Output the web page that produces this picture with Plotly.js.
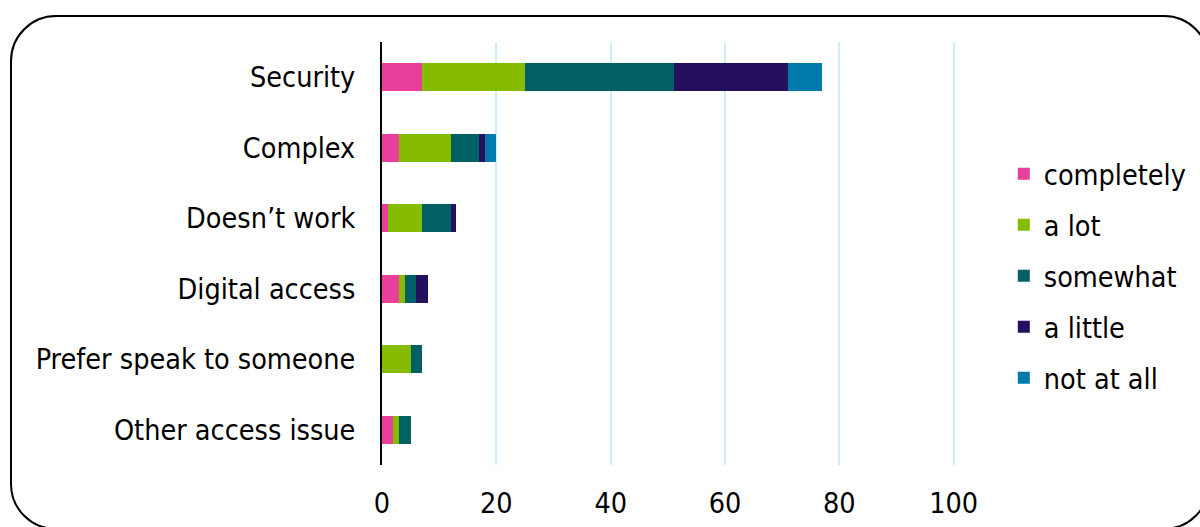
<!DOCTYPE html>
<html>
<head>
<meta charset="utf-8">
<script src="https://cdn.plot.ly/plotly-3.0.1.min.js"></script>
<style>
  html, body { margin: 0; padding: 0; background: #ffffff; overflow: hidden; }
  #frame {
    position: absolute; left: 10px; top: 15px; width: 1200px; height: 515px;
    border: 2.5px solid #000; border-radius: 46px; box-sizing: border-box;
  }
  #chart { position: absolute; left: 0; top: 0; width: 1200px; height: 527px; }
</style>
</head>
<body>
<div id="frame"></div>
<div id="chart"></div>
<script>
// Reasons for not using the service, split by how much each one applies
const categories = ['Security', 'Complex', 'Doesn\u2019t work', 'Digital access', 'Prefer speak to someone', 'Other access issue'];
const seriesNames = ['completely', 'a lot', 'somewhat', 'a little', 'not at all'];
const completely = [7, 3, 1, 3, 0, 2];
const aLot       = [18, 9, 6, 1, 5, 1];
const somewhat   = [26, 5, 5, 2, 2, 2];
const aLittle    = [20, 1, 1, 2, 0, 0];
const notAtAll   = [6, 2, 0, 0, 0, 0];
const xTicks = [0, 20, 40, 60, 80, 100];

const seriesValues = [completely, aLot, somewhat, aLittle, notAtAll];
const colors = ['#E8409A', '#86BC00', '#006064', '#24105F', '#007AAD'];

const FONT = '"DejaVu Sans Condensed", "DejaVu Sans", sans-serif';
const FS = 28.5;

const traces = seriesValues.map((vals, i) => ({
  type: 'bar',
  orientation: 'h',
  name: seriesNames[i],
  legendgroup: 'g' + i,
  y: categories,
  x: vals,
  marker: { color: colors[i], line: { width: 0 } },
  hoverinfo: 'name+x'
}));

const layout = {
  width: 1200,
  height: 527,
  margin: { l: 382, r: 244, t: 42, b: 62 },
  paper_bgcolor: 'rgba(0,0,0,0)',
  plot_bgcolor: 'rgba(0,0,0,0)',
  barmode: 'stack',
  bargap: 0.6,
  font: { family: FONT, size: FS, color: '#000' },
  xaxis: {
    range: [0, 100.4],
    tickvals: xTicks,
    ticktext: xTicks.map(String),
    showgrid: true,
    gridcolor: '#CBEFFB',
    gridwidth: 2,
    zeroline: false,
    showline: false,
    ticks: '',
    ticklabelstandoff: 18,
    tickfont: { family: FONT, size: FS, color: '#000' },
    automargin: false,
    fixedrange: true
  },
  yaxis: {
    autorange: 'reversed',
    showgrid: false,
    zeroline: false,
    showline: true,
    linecolor: '#000',
    linewidth: 2,
    ticks: '',
    ticklabelstandoff: 19,
    tickfont: { family: FONT, size: FS, color: '#000' },
    automargin: false,
    fixedrange: true
  },
  showlegend: true,
  legend: {
    xref: 'container',
    yref: 'container',
    x: 0.8365,
    xanchor: 'left',
    y: 0.476,
    yanchor: 'middle',
    traceorder: 'grouped',
    tracegroupgap: 11,
    itemwidth: 30,
    font: { family: FONT, size: FS, color: '#000' },
    bgcolor: 'rgba(0,0,0,0)'
  }
};

Plotly.newPlot('chart', traces, layout, { displayModeBar: false, staticPlot: true });
</script>
</body>
</html>
